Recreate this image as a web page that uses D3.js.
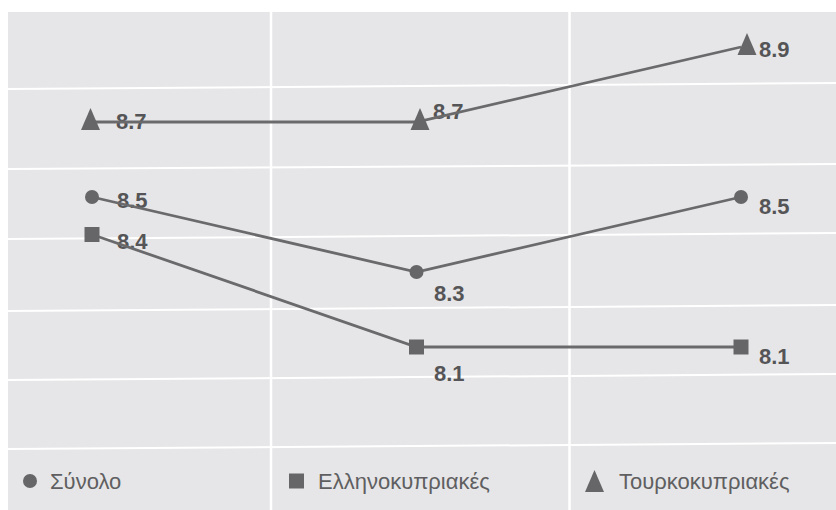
<!DOCTYPE html>
<html>
<head>
<meta charset="utf-8">
<script src="https://cdn.jsdelivr.net/npm/d3@7/dist/d3.min.js"></script>
<style>
  html, body { margin: 0; padding: 0; background: #ffffff; }
  svg { display: block; }
</style>
</head>
<body>
<div id="chart"></div>
<script>
// ---- data ----
const categories = ["Α", "Β", "Γ"];
const seriesNames = ["Σύνολο", "Ελληνοκυπριακές", "Τουρκοκυπριακές"];
const synolo = [8.5, 8.3, 8.5];
const ellinokypriakes = [8.4, 8.1, 8.1];
const tourkokypriakes = [8.7, 8.7, 8.9];

// ---- layout (not data) ----
const W = 836, H = 510;
const bg = { x: 8, y: 12 };
const hGridLeft = [89, 169, 239, 311, 380, 449];
const hGridRight = [83, 164, 233, 305, 374, 443];
const vGridX = [271, 569.5];
const labelOffsets = [
  [[25, 11], [17.5, 29], [18, 17]],   // Σύνολο
  [[25, 14], [17.5, 34], [18, 17]],   // Ελληνοκυπριακές
  [[24, 7], [16.5, -3], [18, 10]]     // Τουρκοκυπριακές
];
const markerDx = [[0, 0, 0], [0, 0, 0], [-1.5, 3.5, 6]];
const legendMarkerX = [30, 296.5, 594.5];
const legendTextX = [50, 318, 619];
const legendY = 481;

const markerColor = "#666668";
const lineColor = "#6a6a6c";
const labelColor = "#555557";
const legendColor = "#5f5f61";

const svg = d3.select("#chart").append("svg")
  .attr("width", W).attr("height", H);

svg.append("rect").attr("x", bg.x).attr("y", bg.y)
  .attr("width", W - bg.x).attr("height", H - bg.y)
  .attr("fill", "#e6e6e8");

// grid
svg.append("g").selectAll("line").data(hGridLeft).join("line")
  .attr("x1", bg.x).attr("x2", W)
  .attr("y1", d => d).attr("y2", (d, i) => hGridRight[i])
  .attr("stroke", "#ffffff").attr("stroke-width", 2);
svg.append("g").selectAll("line").data(vGridX).join("line")
  .attr("x1", d => d).attr("x2", d => d)
  .attr("y1", bg.y).attr("y2", H)
  .attr("stroke", "#ffffff").attr("stroke-width", 2.5);

// scales
const x = d3.scalePoint().domain(categories).range([92, 741]);
const y = d3.scaleLinear().domain([8.1, 8.9]).range([347, 47]);

const series = [
  { name: seriesNames[0], values: synolo, shape: "circle" },
  { name: seriesNames[1], values: ellinokypriakes, shape: "square" },
  { name: seriesNames[2], values: tourkokypriakes, shape: "triangle" }
];

function drawMarker(g, shape, cx, cy) {
  if (shape === "circle") {
    g.append("circle").attr("cx", cx).attr("cy", cy).attr("r", 7).attr("fill", markerColor);
  } else if (shape === "square") {
    g.append("rect").attr("x", cx - 7.5).attr("y", cy - 7.5)
      .attr("width", 15).attr("height", 15).attr("fill", markerColor);
  } else {
    g.append("path")
      .attr("d", `M${cx},${cy - 14}L${cx + 9.5},${cy + 8}L${cx - 9.5},${cy + 8}Z`)
      .attr("fill", markerColor);
  }
}

// labels
series.forEach((s, si) => {
  svg.append("g").selectAll("text").data(s.values).join("text")
    .attr("x", (d, i) => x(categories[i]) + labelOffsets[si][i][0])
    .attr("y", (d, i) => y(d) + labelOffsets[si][i][1])
    .attr("font-family", "'Liberation Sans', Arial, sans-serif")
    .attr("font-weight", "bold")
    .attr("font-size", 22)
    .attr("fill", labelColor)
    .text(d => d3.format(".1f")(d));
});

// lines
const line = d3.line().x((d, i) => x(categories[i])).y(d => y(d));
series.forEach(s => {
  svg.append("path").datum(s.values)
    .attr("d", line).attr("fill", "none")
    .attr("stroke", lineColor).attr("stroke-width", 2.8);
});

// markers
series.forEach((s, si) => {
  const g = svg.append("g");
  s.values.forEach((v, i) => drawMarker(g, s.shape, x(categories[i]) + markerDx[si][i], y(v)));
});

// legend
series.forEach((s, si) => {
  const g = svg.append("g");
  drawMarker(g, s.shape, legendMarkerX[si], s.shape === "triangle" ? legendY + 3 : legendY);
  g.append("text")
    .attr("x", legendTextX[si]).attr("y", legendY + 8)
    .attr("font-family", "'Liberation Sans', Arial, sans-serif")
    .attr("font-size", 22)
    .attr("fill", legendColor)
    .text(s.name);
});
</script>
</body>
</html>
